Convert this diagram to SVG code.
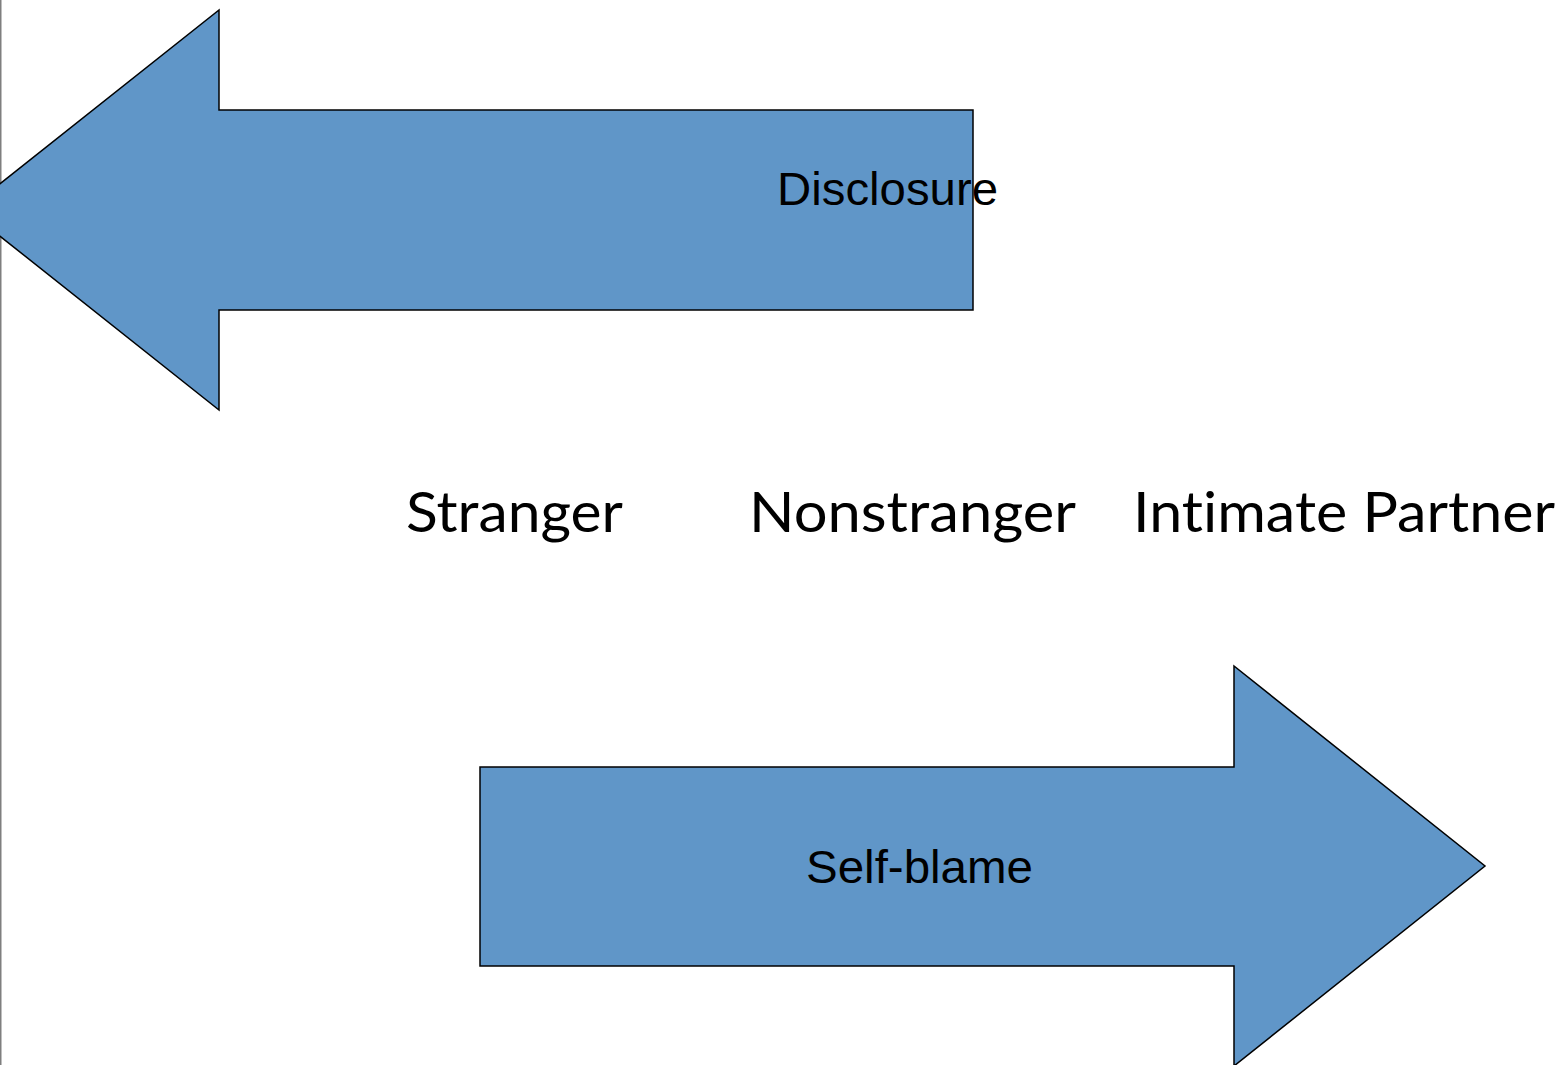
<svg xmlns="http://www.w3.org/2000/svg" width="1561" height="1065" viewBox="0 0 1561 1065">
<style>
.arrow{fill:#6096c8;stroke:#000;stroke-width:1.5;stroke-linejoin:miter}
.lbl{font-family:"Liberation Sans",Arial,sans-serif;font-size:47px;fill:#000}
.cat{font-family:Lato,"Open Sans",sans-serif;font-size:56px;fill:#000;font-variant-ligatures:none}
</style>
<rect width="1561" height="1065" fill="#fff"/>
<line x1="0.75" y1="0" x2="0.75" y2="1065" stroke="#7f7f7f" stroke-width="1.5"/>
<g id="disclosure">
<polygon class="arrow" points="973,110 219,110 219,10 -33,210 219,410 219,310 973,310"/>
<text class="lbl" x="777" y="205" textLength="221" lengthAdjust="spacingAndGlyphs">Disclosure</text>
</g>
<g id="selfblame">
<polygon class="arrow" points="480,767 1234,767 1234,666 1485,866 1234,1066 1234,966 480,966"/>
<text class="lbl" x="806" y="883" textLength="227" lengthAdjust="spacingAndGlyphs">Self-blame</text>
</g>
<g id="stranger"><text class="cat" x="406" y="532" textLength="217" lengthAdjust="spacingAndGlyphs">Stranger</text></g>
<g id="nonstranger"><text class="cat" x="749" y="532" textLength="327" lengthAdjust="spacingAndGlyphs">Nonstranger</text></g>
<g id="intimate"><text class="cat" x="1133" y="532" textLength="422" lengthAdjust="spacingAndGlyphs">Intimate Partner</text></g>
<g id="connectors"></g>
</svg>
